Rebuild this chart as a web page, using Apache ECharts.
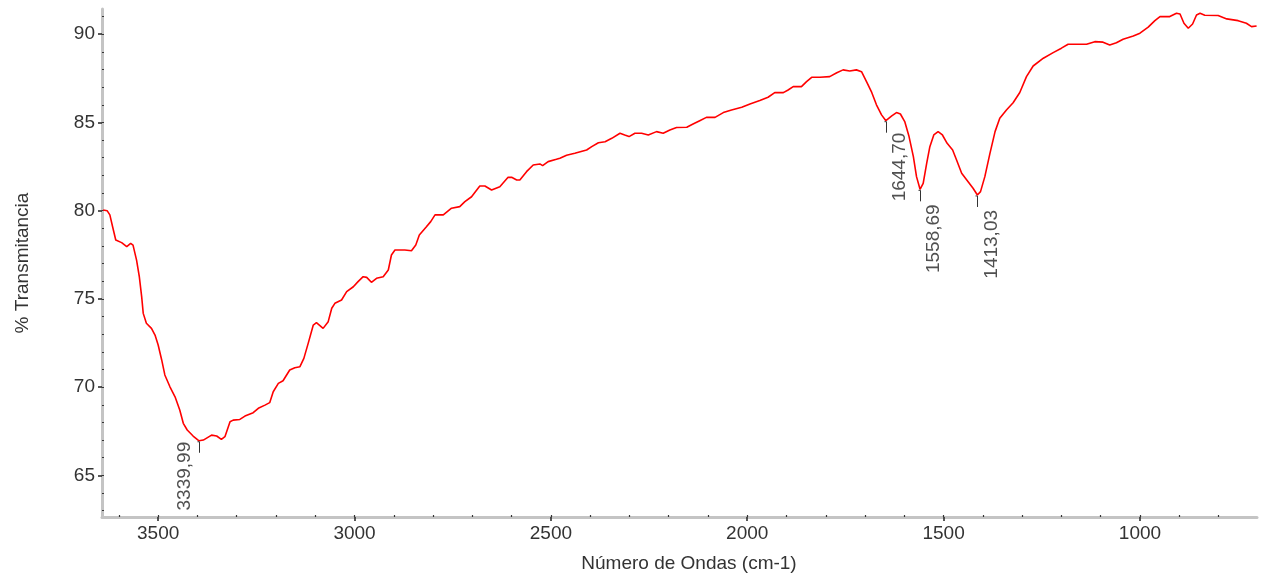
<!DOCTYPE html>
<html>
<head>
<meta charset="utf-8">
<script src="https://cdn.jsdelivr.net/npm/echarts@6/dist/echarts.min.js"></script>
<style>
html,body{margin:0;padding:0;background:#fff;}
#chart{width:1262px;height:578px;}
</style>
</head>
<body>
<div id="chart"></div>
<script>
// ---- data ----
const wavenumbers = [3640,3630,3623,3616,3608,3593,3580,3570,3564,3555,3548,3542,3538,3530,3517,3508,3500,3491,3483,3470,3457,3445,3436,3426,3411,3396,3385,3364,3351,3339,3330,3317,3309,3292,3279,3258,3245,3228,3216,3207,3194,3182,3165,3152,3139,3129,3118,3105,3097,3080,3067,3058,3050,3033,3020,3003,2991,2978,2969,2957,2944,2927,2914,2906,2897,2872,2855,2844,2835,2818,2806,2795,2774,2753,2732,2719,2702,2681,2668,2651,2630,2609,2600,2587,2579,2562,2545,2528,2521,2507,2486,2477,2460,2439,2409,2396,2379,2362,2345,2324,2312,2301,2286,2269,2252,2231,2214,2197,2180,2154,2138,2121,2104,2082,2061,2040,2014,1993,1968,1947,1930,1908,1896,1883,1862,1849,1836,1815,1790,1772,1756,1739,1722,1709,1696,1683,1671,1658,1647,1632,1620,1610,1599,1588,1577,1569,1560,1552,1543,1535,1525,1514,1503,1491,1477,1467,1454,1441,1425,1414,1406,1395,1382,1369,1357,1340,1323,1306,1289,1272,1246,1221,1200,1183,1136,1115,1094,1077,1060,1043,1017,1000,979,962,949,924,907,898,888,877,866,856,847,835,801,779,750,729,716,703];
const transmittance = [80.04,80.0,79.76,79.09,78.34,78.19,77.96,78.15,78.05,77.2,76.26,75.13,74.18,73.62,73.33,72.95,72.39,71.54,70.69,70.02,69.45,68.7,67.95,67.57,67.23,66.96,67.0,67.28,67.23,67.04,67.19,68.04,68.13,68.17,68.36,68.55,68.8,68.98,69.12,69.74,70.21,70.36,70.97,71.1,71.16,71.63,72.48,73.52,73.65,73.33,73.71,74.47,74.75,74.94,75.41,75.69,75.98,76.26,76.22,75.94,76.17,76.26,76.64,77.49,77.77,77.77,77.73,78.05,78.62,79.06,79.38,79.76,79.76,80.14,80.23,80.51,80.79,81.4,81.4,81.17,81.36,81.89,81.89,81.74,81.74,82.21,82.59,82.65,82.55,82.78,82.91,82.97,83.14,83.25,83.44,83.63,83.85,83.91,84.1,84.39,84.29,84.2,84.39,84.39,84.29,84.48,84.39,84.57,84.71,84.73,84.91,85.1,85.29,85.29,85.56,85.71,85.86,86.05,86.24,86.43,86.69,86.69,86.84,87.03,87.03,87.31,87.56,87.56,87.6,87.82,87.98,87.92,87.98,87.88,87.3,86.7,86.0,85.43,85.1,85.37,85.56,85.48,85.05,84.2,83.06,81.93,81.21,81.55,82.69,83.63,84.29,84.48,84.29,83.82,83.44,82.87,82.12,81.74,81.27,80.89,81.08,81.93,83.25,84.48,85.24,85.71,86.12,86.7,87.6,88.2,88.64,88.96,89.21,89.43,89.43,89.58,89.55,89.39,89.52,89.72,89.9,90.06,90.4,90.77,91.0,91.0,91.19,91.15,90.62,90.34,90.58,91.09,91.19,91.08,91.06,90.87,90.77,90.62,90.43,90.47];

const peakWavenumbers = [3396, 1647, 1560, 1414];
const peakTransmittance = [66.96, 85.1, 81.21, 80.89];
const peakLabels = ['3339,99', '1644,70', '1558,69', '1413,03'];

const xMajorTicks = [3500, 3000, 2500, 2000, 1500, 1000];
const xMinorTicks = [3600,3500,3400,3300,3200,3100,3000,2900,2800,2700,2600,2500,2400,2300,2200,2100,2000,1900,1800,1700,1600,1500,1400,1300,1200,1100,1000,900,800];
const yMajorTicks = [65, 70, 75, 80, 85, 90];
const yMinorTicks = [63,64,65,66,67,68,69,70,71,72,73,74,75,76,77,78,79,80,81,82,83,84,85,86,87,88,89,90,91];

const xMin = 702, xMax = 3643, yMin = 62.64, yMax = 91.43;

// ---- chart ----
const FONT = 'Liberation Sans';
const FS = 19;
const chart = echarts.init(document.getElementById('chart'), null, {renderer: 'canvas'});
const lineData = wavenumbers.map((w, i) => [w, transmittance[i]]);
const peakData = peakWavenumbers.map((w, i) => [w, peakTransmittance[i], peakLabels[i]]);
// label placement: first label sits left of its tick, others below-right
const peakLabelDx = [-14, 14, 14, 14];
const peakLabelDy = [1, 12, 15, 15];

const axisLineStyle = {color: '#c4c4c4', width: 3};
const plain = v => String(v);

chart.setOption({
  animation: false,
  backgroundColor: '#ffffff',
  grid: {left: 102, right: 5, top: 9, bottom: 61, containLabel: false},
  xAxis: [
    {
      type: 'value', min: xMin, max: xMax, inverse: true,
      name: 'Número de Ondas (cm-1)', nameLocation: 'middle', nameGap: 37,
      nameTextStyle: {fontFamily: FONT, fontSize: FS, color: '#333', padding: [0, 0, 0, 19]},
      axisLine: {show: true, lineStyle: axisLineStyle},
      axisTick: {show: true, customValues: xMajorTicks, length: 4, inside: false, lineStyle: {color: '#222', width: 1.5}},
      axisLabel: {customValues: xMajorTicks, formatter: plain, fontFamily: FONT, fontSize: FS, color: '#333', margin: 7},
      splitLine: {show: false}
    },
    {
      type: 'value', min: xMin, max: xMax, inverse: true, position: 'bottom',
      axisLine: {show: false},
      axisTick: {show: true, customValues: xMinorTicks, length: 2, inside: true, lineStyle: {color: '#333', width: 1.2}},
      axisLabel: {show: false},
      splitLine: {show: false}
    }
  ],
  yAxis: [
    {
      type: 'value', min: yMin, max: yMax,
      name: '% Transmitancia', nameLocation: 'middle', nameGap: 70, nameRotate: 90,
      nameTextStyle: {fontFamily: FONT, fontSize: FS, color: '#333'},
      axisLine: {show: true, lineStyle: axisLineStyle},
      axisTick: {show: true, customValues: yMajorTicks, length: 4, inside: false, lineStyle: {color: '#222', width: 1.5}},
      axisLabel: {customValues: yMajorTicks, formatter: plain, fontFamily: FONT, fontSize: FS, color: '#333', margin: 7},
      splitLine: {show: false}
    },
    {
      type: 'value', min: yMin, max: yMax, position: 'left',
      axisLine: {show: false},
      axisTick: {show: true, customValues: yMinorTicks, length: 2, inside: true, lineStyle: {color: '#333', width: 1.2}},
      axisLabel: {show: false},
      splitLine: {show: false}
    }
  ],
  series: [
    {
      type: 'line', xAxisIndex: 0, yAxisIndex: 0,
      data: lineData, showSymbol: false, symbol: 'none',
      lineStyle: {color: '#ff0000', width: 1.6},
      z: 3
    },
    {
      type: 'custom', xAxisIndex: 0, yAxisIndex: 0,
      data: peakData, clip: false, z: 4,
      encode: {x: 0, y: 1},
      renderItem: function (params, api) {
        const p = api.coord([api.value(0), api.value(1)]);
        const i = params.dataIndex;
        const cx = Math.round(p[0]) + 0.5;
        return {
          type: 'group',
          children: [
            {type: 'line', shape: {x1: cx, y1: p[1] + 1, x2: cx, y2: p[1] + 12},
             style: {stroke: '#333', lineWidth: 1}},
            {type: 'line', shape: {x1: cx - 2, y1: p[1] + 1, x2: cx, y2: p[1] + 1},
             style: {stroke: '#333', lineWidth: 1}},
            {type: 'text', x: p[0] + peakLabelDx[i], y: p[1] + peakLabelDy[i], rotation: Math.PI / 2,
             style: {text: peakLabels[i], fill: '#505050', fontFamily: FONT, fontSize: FS,
                     align: 'right', verticalAlign: 'middle'}}
          ]
        };
      }
    }
  ]
});
</script>
</body>
</html>
